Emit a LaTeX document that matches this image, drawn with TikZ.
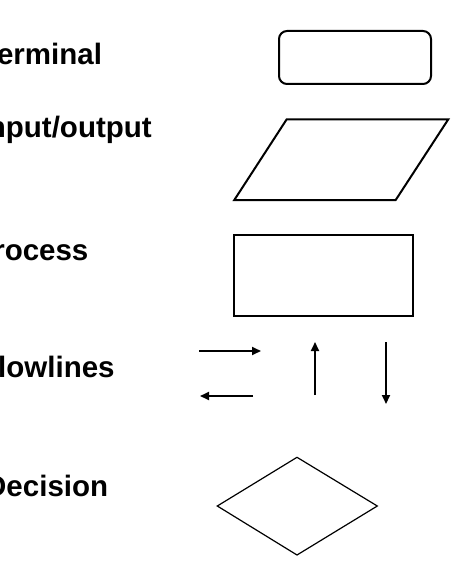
\documentclass[tikz,border=0pt]{standalone}
\usepackage{fontspec}
\setmainfont{Liberation Sans}
\usetikzlibrary{arrows.meta}
\begin{document}
\begin{tikzpicture}[x=1bp,y=-1bp,
  txt/.style={anchor=base west,inner sep=0pt,font=\fontsize{29.5bp}{35bp}\selectfont\bfseries},
  symb/.style={draw,line width=2bp,inner sep=0pt},
  flow/.style={line width=2bp,-{Triangle[length=9bp,width=8bp]}}]
\useasboundingbox (0,0) rectangle (474,579);
\node[txt] (terminal) at (-19,65) {Terminal};
\node[txt] (inout) at (-20.5,137.3) {Input/output};
\node[txt] (process) at (-26.6,260) {Process};
\node[txt] (flowlines) at (-20,377) {Flowlines};
\node[txt] (decision) at (-15,496) {Decision};
\node[symb,rounded corners=8bp,minimum width=152bp,minimum height=53bp] (termbox) at (355,57.5) {};
\draw[line width=2bp,line join=miter] (286.7,119.3) -- (448.3,119.3) -- (395.7,200) -- (234.3,200) -- cycle;
\node[symb,minimum width=179bp,minimum height=80.7bp] (procbox) at (323.8,275.3) {};
\coordinate (r0) at (199,351);
\coordinate (r1) at (261,351);
\coordinate (l0) at (253,396);
\coordinate (l1) at (200,396);
\coordinate (u0) at (315,395);
\coordinate (u1) at (315,342);
\coordinate (d0) at (386,342);
\coordinate (d1) at (386,404);
\draw[flow] (r0) -- (r1);
\draw[flow] (l0) -- (l1);
\draw[flow] (u0) -- (u1);
\draw[flow] (d0) -- (d1);
\draw[line width=1.2bp] (297,457.3) -- (377.3,506) -- (297,555) -- (217.3,506) -- cycle;
\end{tikzpicture}
\end{document}
